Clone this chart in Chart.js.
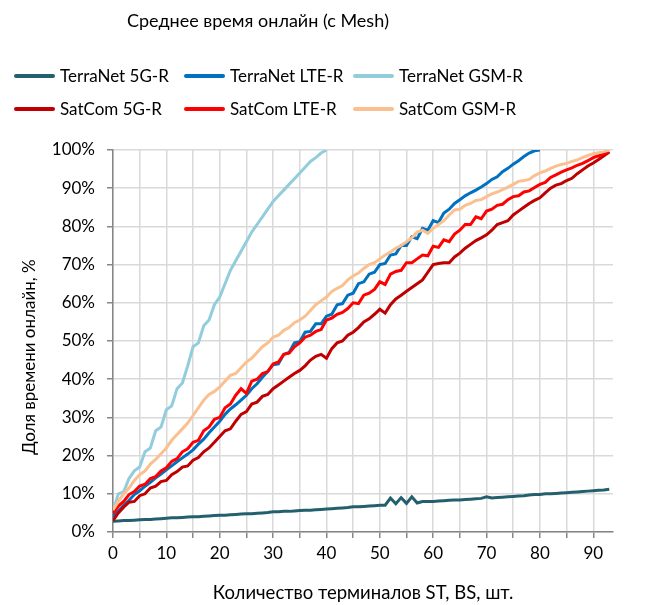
<!DOCTYPE html>
<html lang="ru">
<head>
<meta charset="utf-8">
<title>Среднее время онлайн (с Mesh)</title>
<script src="https://cdn.jsdelivr.net/npm/chart.js@4.4.1/dist/chart.umd.min.js"></script>
<style>
  html, body { margin: 0; padding: 0; background: #fff; }
  #wrap { position: relative; width: 664px; height: 605px; font-family: Lato, 'Open Sans', sans-serif; color: #000; }
  #title { position: absolute; left: 0; top: 9px; width: 516px; text-align: center; font-size: 18px; }
  #legend { position: absolute; left: 14px; top: 65px; width: 650px; }
  .item { position: absolute; display: flex; align-items: center; font-size: 17px; white-space: nowrap; }
  .swatch { width: 41px; height: 4px; border-radius: 2px; margin-right: 5px; }
  canvas { position: absolute; left: 0; top: 0; }
</style>
</head>
<body>
<div id="wrap">
  <canvas id="chart" width="664" height="605"></canvas>
  <div id="title">Среднее время онлайн (с Mesh)</div>
  <div id="legend"></div>
</div>
<script>
// number of terminals on the x axis
const terminals = [
  0, 1, 2, 3, 4, 5, 6, 7, 8, 9,
  10, 11, 12, 13, 14, 15, 16, 17, 18, 19,
  20, 21, 22, 23, 24, 25, 26, 27, 28, 29,
  30, 31, 32, 33, 34, 35, 36, 37, 38, 39,
  40, 41, 42, 43, 44, 45, 46, 47, 48, 49,
  50, 51, 52, 53, 54, 55, 56, 57, 58, 59,
  60, 61, 62, 63, 64, 65, 66, 67, 68, 69,
  70, 71, 72, 73, 74, 75, 76, 77, 78, 79,
  80, 81, 82, 83, 84, 85, 86, 87, 88, 89,
  90, 91, 92, 93
];

const seriesNames = [
  'TerraNet 5G-R', 'TerraNet LTE-R', 'TerraNet GSM-R',
  'SatCom 5G-R', 'SatCom LTE-R', 'SatCom GSM-R'
];
const seriesColors = ['#245f6e', '#0070c0', '#92cddc', '#c00000', '#ff0000', '#fac090'];

// share of online time, %
const terranet5g = [
  2.8, 2.9, 3.0, 3.0, 3.1, 3.2, 3.3, 3.3, 3.4, 3.5,
  3.6, 3.7, 3.7, 3.8, 3.9, 4.0, 4.0, 4.1, 4.2, 4.3,
  4.4, 4.4, 4.5, 4.6, 4.7, 4.8, 4.8, 4.9, 5.0, 5.1,
  5.3, 5.3, 5.4, 5.4, 5.5, 5.6, 5.7, 5.7, 5.8, 5.9,
  6.0, 6.1, 6.2, 6.3, 6.4, 6.6, 6.6, 6.7, 6.8, 6.9,
  7.0, 7.0, 8.9, 7.4, 9.0, 7.5, 9.2, 7.6, 8.0, 8.0,
  8.0, 8.1, 8.2, 8.3, 8.4, 8.4, 8.5, 8.6, 8.7, 8.8,
  9.2, 8.9, 9.0, 9.1, 9.2, 9.3, 9.4, 9.5, 9.7, 9.8,
  9.8, 10.0, 10.0, 10.1, 10.2, 10.3, 10.4, 10.5, 10.6, 10.7,
  10.8, 10.9, 11.0, 11.2
];
const terranetLte = [
  4.0, 5.5, 7.0, 8.3, 9.8, 10.8, 12.0, 13.0, 14.2, 15.2,
  16.3, 17.3, 18.4, 19.4, 20.4, 21.5, 23.0, 24.3, 26.0, 27.5,
  29.0, 30.8, 32.2, 33.3, 34.5, 35.8, 37.5, 38.8, 40.5, 42.0,
  43.8, 44.0, 46.5, 47.0, 49.5, 49.8, 52.3, 52.5, 54.5, 54.5,
  56.5, 57.0, 59.5, 59.8, 62.0, 62.5, 65.0, 65.5, 67.5, 68.0,
  70.0, 70.3, 72.5, 72.8, 75.0, 75.0, 77.3, 76.8, 79.5, 79.0,
  81.5, 81.0, 83.5, 84.5, 86.0, 87.0, 88.0, 88.8, 89.5, 90.3,
  91.2, 92.3, 93.0, 94.3, 95.2, 96.3, 97.2, 98.3, 99.2, 99.8,
  100, null, null, null, null, null, null, null, null, null,
  null, null, null, null
];
const terranetGsm = [
  5.5, 10.0, 10.5, 14.0, 16.0, 17.0, 21.0, 22.0, 26.5, 27.5,
  32.0, 33.0, 37.5, 39.0, 43.5, 48.5, 49.5, 54.0, 55.5, 59.5,
  61.5, 65.0, 68.5, 71.0, 73.5, 76.0, 78.5, 80.5, 82.5, 84.5,
  86.5, 88.0, 89.5, 91.0, 92.5, 94.0, 95.5, 97.0, 98.0, 99.2,
  100, null, null, null, null, null, null, null, null, null,
  null, null, null, null, null, null, null, null, null, null,
  null, null, null, null, null, null, null, null, null, null,
  null, null, null, null, null, null, null, null, null, null,
  null, null, null, null, null, null, null, null, null, null,
  null, null, null, null
];
const satcom5g = [
  3.0, 5.0, 6.5, 7.8, 8.0, 9.5, 10.0, 11.5, 12.0, 13.2,
  13.5, 15.0, 15.8, 17.0, 17.3, 18.8, 19.5, 21.0, 22.0, 23.5,
  25.0, 26.5, 27.0, 29.0, 30.8, 31.5, 33.5, 34.0, 35.5, 36.0,
  37.5, 38.5, 39.5, 40.5, 41.5, 42.3, 43.5, 45.0, 46.0, 46.5,
  45.5, 48.0, 49.5, 50.0, 51.5, 52.3, 53.5, 55.0, 55.8, 57.0,
  58.3, 57.3, 59.5, 61.0, 62.0, 63.0, 64.0, 65.0, 66.0, 68.0,
  70.0, 70.3, 70.5, 70.5, 72.0, 73.0, 74.3, 75.3, 76.3, 77.0,
  77.8, 79.0, 80.5, 81.0, 81.5, 83.0, 84.0, 85.0, 86.0, 86.8,
  87.5, 88.8, 90.0, 90.8, 91.2, 92.0, 92.6, 93.8, 94.8, 95.8,
  96.6, 97.5, 98.5, 99.5
];
const satcomLte = [
  4.8, 6.8, 8.0, 9.8, 10.6, 12.0, 12.5, 14.0, 14.5, 16.0,
  16.8, 18.5, 19.2, 21.0, 21.8, 23.5, 24.0, 26.5, 27.5, 29.5,
  30.0, 32.5, 33.5, 35.8, 37.5, 36.3, 39.5, 40.0, 41.5, 42.0,
  44.0, 44.5, 46.5, 46.8, 48.5, 49.5, 51.0, 51.5, 52.5, 53.0,
  55.5, 56.0, 57.0, 57.5, 58.5, 60.0, 59.8, 62.0, 62.5, 63.5,
  65.5, 64.8, 67.5, 68.2, 68.5, 70.5, 70.5, 71.5, 72.5, 72.3,
  74.8, 74.5, 76.5, 76.0, 78.0, 79.0, 80.5, 80.5, 82.5, 82.0,
  84.0, 84.5, 85.5, 85.8, 87.0, 87.8, 88.0, 89.0, 89.3, 90.2,
  91.0, 91.5, 92.8, 93.5, 94.2, 94.8, 95.3, 96.0, 96.5, 97.2,
  98.0, 98.5, 99.0, 99.6
];
const satcomGsm = [
  5.8, 8.0, 10.0, 11.5, 13.5, 15.0, 16.0, 17.8, 19.0, 20.5,
  22.0, 24.0, 25.5, 27.0, 28.5, 30.5, 32.5, 34.5, 36.0, 36.8,
  38.0, 39.5, 41.0, 41.5, 43.0, 44.5, 45.5, 47.0, 48.5, 49.5,
  51.0, 51.5, 52.8, 53.5, 54.8, 55.5, 56.5, 58.0, 59.5, 60.5,
  61.5, 63.0, 63.8, 64.5, 66.0, 67.0, 67.8, 69.0, 70.0, 70.5,
  71.5, 72.5, 73.3, 74.3, 75.0, 76.0, 77.0, 78.5, 79.0, 78.2,
  79.5, 80.5, 81.5, 83.0, 84.3, 84.5, 85.5, 86.0, 86.8, 87.0,
  87.8, 88.5, 89.0, 89.6, 90.3, 91.0, 91.8, 92.0, 92.3, 93.3,
  94.0, 94.5, 95.2, 95.8, 96.2, 96.5, 97.0, 97.4, 98.0, 98.6,
  99.0, 99.3, 99.6, 100.0
];

const seriesValues = [terranet5g, terranetLte, terranetGsm, satcom5g, satcomLte, satcomGsm];

const FONT = 'Lato, "Open Sans", sans-serif';
const GRID = '#d9d9d9';
const AXIS = '#868686';

const datasets = seriesNames.map((name, i) => ({
  label: name,
  data: seriesValues[i],
  borderColor: seriesColors[i],
  backgroundColor: seriesColors[i],
  borderWidth: 3,
  pointRadius: 0,
  tension: 0,
  spanGaps: false,
  order: seriesNames.length - i   // later series drawn on top
}));

// y axis title, set a little below the middle of the plot
const yTitle = {
  id: 'yTitle',
  afterDraw(chart) {
    const ctx = chart.ctx;
    ctx.save();
    ctx.translate(30, 357);
    ctx.rotate(-Math.PI / 2);
    ctx.font = '17px ' + FONT;
    ctx.fillStyle = '#000';
    ctx.textAlign = 'center';
    ctx.textBaseline = 'middle';
    ctx.fillText('Доля времени онлайн, %', 0, 0);
    ctx.restore();
  }
};

new Chart(document.getElementById('chart'), {
  type: 'line',
  data: { labels: terminals, datasets },
  plugins: [yTitle],
  options: {
    responsive: false,
    animation: false,
    layout: { padding: { top: 150, right: 51, left: 0, bottom: 0 } },
    plugins: { legend: { display: false }, tooltip: { enabled: false } },
    scales: {
      x: {
        type: 'linear',
        min: 0,
        max: 93.7,
        afterFit: (s) => { s.height = 73; },
        grid: { color: GRID, lineWidth: 1.5, tickLength: 6, tickColor: AXIS, tickWidth: 1.5 },
        border: { color: AXIS, width: 1.5 },
        ticks: {
          stepSize: 5,
          includeBounds: false,
          autoSkip: false,
          maxRotation: 0,
          padding: 5,
          color: '#000',
          font: { family: FONT, size: 17 },
          callback: (v) => (v % 10 === 0 ? v : '')
        },
        title: {
          display: true,
          text: 'Количество терминалов ST, BS, шт.',
          color: '#000',
          font: { family: FONT, size: 18.5 },
          padding: { top: 0, bottom: 1 }
        }
      },
      y: {
        min: 0,
        max: 100,
        afterFit: (s) => { s.width = 113; },
        grid: { color: GRID, lineWidth: 1.5, tickLength: 6, tickColor: AXIS, tickWidth: 1.5 },
        border: { color: AXIS, width: 1.5 },
        ticks: {
          stepSize: 10,
          padding: 12,
          color: '#000',
          font: { family: FONT, size: 17 },
          callback: (v) => v + '%'
        }
      }
    }
  }
});

// legend in three columns, two rows
const legendEl = document.getElementById('legend');
const colX = [0, 170, 339];
seriesNames.forEach((name, i) => {
  const item = document.createElement('div');
  item.className = 'item';
  item.style.left = colX[i % 3] + 'px';
  item.style.top = (Math.floor(i / 3) * 33) + 'px';
  const sw = document.createElement('span');
  sw.className = 'swatch';
  sw.style.background = seriesColors[i];
  const tx = document.createElement('span');
  tx.textContent = name;
  item.appendChild(sw);
  item.appendChild(tx);
  legendEl.appendChild(item);
});
</script>
</body>
</html>
